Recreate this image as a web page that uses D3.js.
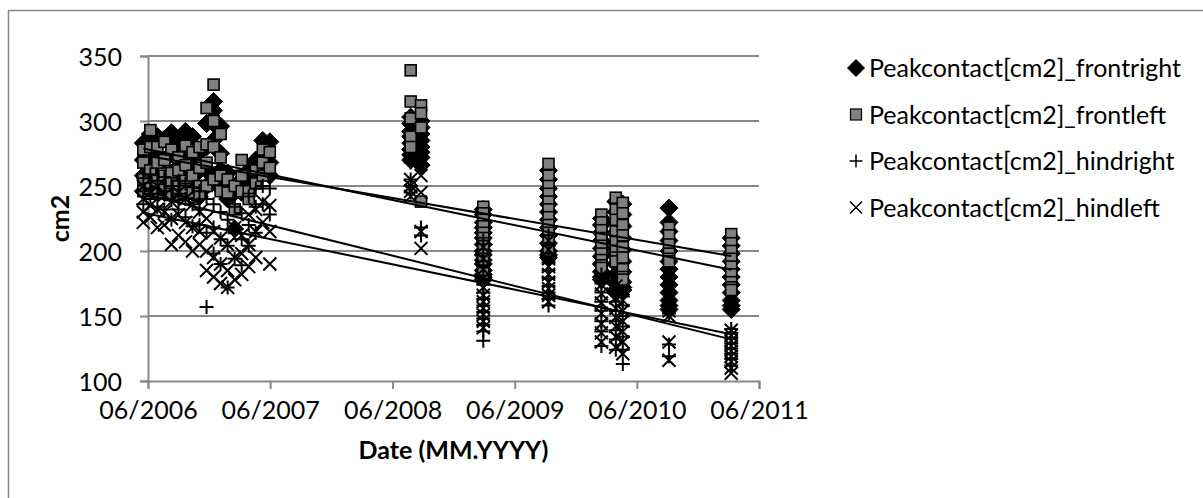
<!DOCTYPE html>
<html>
<head>
<meta charset="utf-8">
<script src="https://cdn.jsdelivr.net/npm/d3@7"></script>
<style>
  body { margin: 0; background: #fff; }
  svg { display: block; }
  text { font-family: Lato, "Open Sans", sans-serif; fill: #000; }
</style>
</head>
<body>
<svg id="chart" width="1203" height="498"></svg>
<script>
// Measurement sessions (one entry per recording day)
const sessionDates = [
  "2006-05-18", "2006-06-08", "2006-06-29", "2006-07-20", "2006-08-10",
  "2006-08-31", "2006-09-21", "2006-10-12", "2006-11-02", "2006-11-23",
  "2006-12-14", "2007-01-04", "2007-01-25", "2007-02-15", "2007-03-08",
  "2007-03-29", "2007-04-19", "2007-05-10", "2007-05-31",
  "2008-07-25", "2008-08-25",
  "2009-02-27", "2009-09-10",
  "2010-02-15", "2010-03-30", "2010-04-20",
  "2010-09-05", "2011-03-10"
];

// Peak contact area per paw [cm2], one list of steps per session
const frontRight = [
  [283, 270, 258, 246], [290, 278, 262, 248], [288, 272, 255, 246], [286, 270, 252, 245], [291, 275, 260, 248],
  [283, 265, 250, 244], [292, 276, 258, 247], [288, 266, 252, 245], [276, 262, 248, 242], [298, 280, 262, 250],
  [315, 308, 298, 285, 255], [296, 275, 262, 248], [260, 250, 240], [245, 217], [255, 245],
  [262, 250], [270, 255], [285, 272, 260], [284, 268, 258],
  [303, 298, 292, 288, 283, 278, 274, 270], [300, 295, 290, 285, 280, 276, 272, 266],
  [232, 228, 222, 218, 214, 210, 205, 200, 197, 193, 190, 185, 182, 180, 178],
  [262, 255, 248, 242, 236, 230, 224, 218, 212, 206, 200, 197, 195],
  [225, 220, 214, 208, 202, 196, 190, 184, 180, 178],
  [238, 230, 222, 214, 206, 198, 190, 182, 175, 170, 168],
  [236, 228, 219, 210, 201, 192, 184, 176, 172, 170],
  [233, 222, 215, 208, 200, 192, 186, 180, 174, 168, 162, 158, 155],
  [210, 204, 198, 192, 186, 180, 174, 168, 162, 158, 155]
];

const frontLeft = [
  [278, 268, 255, 246], [293, 280, 262, 248], [280, 268, 254, 245], [284, 270, 258, 247], [278, 260, 252, 244],
  [272, 262, 250, 243], [281, 266, 254, 246], [276, 258, 245], [280, 264, 250, 244], [310, 282, 268, 250],
  [328, 300, 280, 255], [290, 272, 258, 246], [255, 245], [250, 232], [270, 258, 246],
  [246, 240], [262, 252], [278, 268, 258], [276, 264],
  [339, 315, 302, 288, 280], [312, 306, 295, 238],
  [234, 229, 224, 219, 214, 210, 206, 201, 197, 192, 188, 185, 183],
  [267, 258, 250, 244, 238, 232, 226, 220, 214, 208, 202, 200],
  [228, 222, 216, 210, 204, 198, 193, 189, 187],
  [241, 232, 224, 215, 207, 200, 195, 192],
  [237, 229, 220, 212, 203, 195, 186, 180, 178],
  [218, 212, 205, 198, 194, 192],
  [213, 206, 200, 194, 188, 182, 176, 172, 170]
];

const hindRight = [
  [256, 246, 236], [259, 248, 240], [254, 244, 234], [257, 246, 232], [250, 239, 224],
  [254, 244, 232], [252, 240, 226], [249, 236, 219], [246, 232, 220], [240, 214, 157],
  [236, 218, 198], [230, 209, 190], [224, 204, 172], [234, 214, 194], [229, 209, 189],
  [242, 220, 204], [248, 234, 214], [250, 236], [248, 228],
  [268, 255, 250, 245], [265, 218, 212],
  [208, 198, 188, 181, 174, 168, 163, 158, 153, 148, 143, 138, 131],
  [212, 205, 198, 191, 185, 179, 173, 168, 163, 158],
  [182, 175, 168, 161, 154, 146, 138, 127],
  [168, 161, 154, 146, 139, 132, 124],
  [165, 158, 150, 142, 134, 124, 113],
  [162, 157, 152, 128, 119],
  [140, 137, 133, 129, 125, 121, 117, 112]
];

const hindLeft = [
  [250, 240, 230, 222], [245, 235, 226], [250, 232, 218], [243, 230, 220], [238, 225, 205],
  [245, 228, 212], [240, 222, 207], [236, 218, 200], [230, 215, 205], [225, 200, 185],
  [215, 195, 180], [210, 190, 175], [205, 185, 172], [218, 195, 178], [212, 198, 182],
  [228, 205, 188], [232, 215, 195], [238, 222], [235, 215, 190],
  [255, 250, 246, 242], [258, 245, 215, 202],
  [203, 194, 186, 179, 172, 166, 161, 156, 151, 146, 141],
  [208, 201, 194, 188, 182, 176, 171, 166, 161],
  [181, 174, 167, 160, 152, 144, 137, 130],
  [173, 164, 156, 149, 142, 134, 126],
  [171, 162, 154, 146, 138, 130, 121],
  [154, 150, 130, 116],
  [139, 135, 131, 127, 123, 119, 115, 110, 106]
];

const seriesNames = [
  "Peakcontact[cm2]_frontright",
  "Peakcontact[cm2]_frontleft",
  "Peakcontact[cm2]_hindright",
  "Peakcontact[cm2]_hindleft"
];
const yTicks = [100, 150, 200, 250, 300, 350];
const xTickDates = ["2006-06-01", "2007-06-01", "2008-06-01", "2009-06-01", "2010-06-01", "2011-06-01"];
const xTitle = "Date (MM.YYYY)";
const yTitle = "cm2";

// ---- layout ----
const svg = d3.select("#chart");
const parse = d3.timeParse("%Y-%m-%d");
const fmt = d3.timeFormat("%m/%Y");
const plot = { left: 148, right: 759, top: 56, bottom: 381 };
const gridColor = "#888888";
const fontSize = 25;

const x = d3.scaleTime()
  .domain([parse(xTickDates[0]), parse(xTickDates[xTickDates.length - 1])])
  .range([plot.left, plot.right]);
const y = d3.scaleLinear().domain([100, 350]).range([plot.bottom, plot.top]);

// chart frame
svg.append("rect")
  .attr("x", 8.5).attr("y", 10.5).attr("width", 1210).attr("height", 510)
  .attr("fill", "#fff").attr("stroke", gridColor).attr("stroke-width", 1.5);

// horizontal gridlines
svg.append("g")
  .selectAll("line")
  .data(yTicks.filter(v => v !== 100))
  .join("line")
  .attr("x1", plot.left).attr("x2", plot.right)
  .attr("y1", d => y(d)).attr("y2", d => y(d))
  .attr("stroke", gridColor).attr("stroke-width", 2);

// y axis
const yAxis = svg.append("g")
  .attr("transform", `translate(${plot.left},0)`)
  .call(d3.axisLeft(y).tickValues(yTicks).tickSize(8).tickPadding(18).tickFormat(d3.format("d")));
yAxis.select(".domain").attr("stroke", gridColor).attr("stroke-width", 2);
yAxis.selectAll(".tick line").attr("stroke", gridColor).attr("stroke-width", 2);
yAxis.selectAll(".tick text").attr("font-size", fontSize).attr("font-family", "Lato").attr("dy", "0.36em");

// x axis
const xAxis = svg.append("g")
  .attr("transform", `translate(0,${plot.bottom})`)
  .call(d3.axisBottom(x).tickValues(xTickDates.map(parse)).tickSize(8).tickPadding(12).tickFormat(fmt));
xAxis.select(".domain").attr("stroke", gridColor).attr("stroke-width", 2);
xAxis.selectAll(".tick line").attr("stroke", gridColor).attr("stroke-width", 2);
xAxis.selectAll(".tick text").attr("font-size", fontSize).attr("font-family", "Lato");

// axis titles
svg.append("text")
  .attr("x", (plot.left + plot.right) / 2).attr("y", 459)
  .attr("text-anchor", "middle").attr("font-size", fontSize).attr("font-weight", "bold")
  .text(xTitle);
svg.append("text")
  .attr("transform", `translate(60,${(plot.top + plot.bottom) / 2}) rotate(-90)`)
  .attr("text-anchor", "middle").attr("dy", "0.36em")
  .attr("font-size", fontSize).attr("font-weight", "bold")
  .text(yTitle);

// ---- marker shapes ----
const markers = [
  { // diamond
    draw: (g, s) => g.append("path").attr("d", `M0,${-s}L${s},0L0,${s}L${-s},0Z`)
      .attr("fill", "#000").attr("stroke", "#000").attr("stroke-width", 1),
    size: 9
  },
  { // square
    draw: (g, s) => g.append("rect").attr("x", -s).attr("y", -s).attr("width", 2 * s).attr("height", 2 * s)
      .attr("fill", "#808080").attr("stroke", "#000").attr("stroke-width", 1.6),
    size: 5.5
  },
  { // plus
    draw: (g, s) => g.append("path").attr("d", `M${-s},0H${s}M0,${-s}V${s}`)
      .attr("fill", "none").attr("stroke", "#000").attr("stroke-width", 2),
    size: 7
  },
  { // cross
    draw: (g, s) => g.append("path").attr("d", `M${-s},${-s}L${s},${s}M${-s},${s}L${s},${-s}`)
      .attr("fill", "none").attr("stroke", "#000").attr("stroke-width", 2),
    size: 6.5
  }
];

const seriesValues = [frontRight, frontLeft, hindRight, hindLeft];
const seriesPoints = seriesValues.map(list =>
  list.flatMap((vals, i) => vals.map(v => ({ date: parse(sessionDates[i]), value: v })))
);

// scatter points, series drawn in order
seriesPoints.forEach((pts, si) => {
  const g = svg.append("g");
  pts.forEach(p => {
    const m = g.append("g").attr("transform", `translate(${x(p.date)},${y(p.value)})`);
    markers[si].draw(m, markers[si].size);
  });
});

// linear least-squares trendline for each series
seriesPoints.forEach(pts => {
  const t = pts.map(p => +p.date / 864e5);
  const v = pts.map(p => p.value);
  const mt = d3.mean(t), mv = d3.mean(v);
  const slope = d3.sum(t, (ti, i) => (ti - mt) * (v[i] - mv)) / d3.sum(t, ti => (ti - mt) ** 2);
  const icpt = mv - slope * mt;
  const [t0, t1] = d3.extent(t);
  svg.append("line")
    .attr("x1", x(new Date(t0 * 864e5))).attr("y1", y(icpt + slope * t0))
    .attr("x2", x(new Date(t1 * 864e5))).attr("y2", y(icpt + slope * t1))
    .attr("stroke", "#000").attr("stroke-width", 2);
});

// legend
const legend = svg.append("g");
const legendSizes = [8.5, 5.5, 6.5, 6];
seriesNames.forEach((name, i) => {
  const cy = 68 + i * 46.5;
  const m = legend.append("g").attr("transform", `translate(856,${cy})`);
  markers[i].draw(m, legendSizes[i]);
  if (i === 1) m.select("rect").attr("stroke-width", 1.2);
  if (i >= 2) m.select("path").attr("stroke-width", 1.5);
  legend.append("text")
    .attr("x", 869).attr("y", cy).attr("dy", "0.36em")
    .attr("font-size", fontSize)
    .text(name);
});
</script>
</body>
</html>
